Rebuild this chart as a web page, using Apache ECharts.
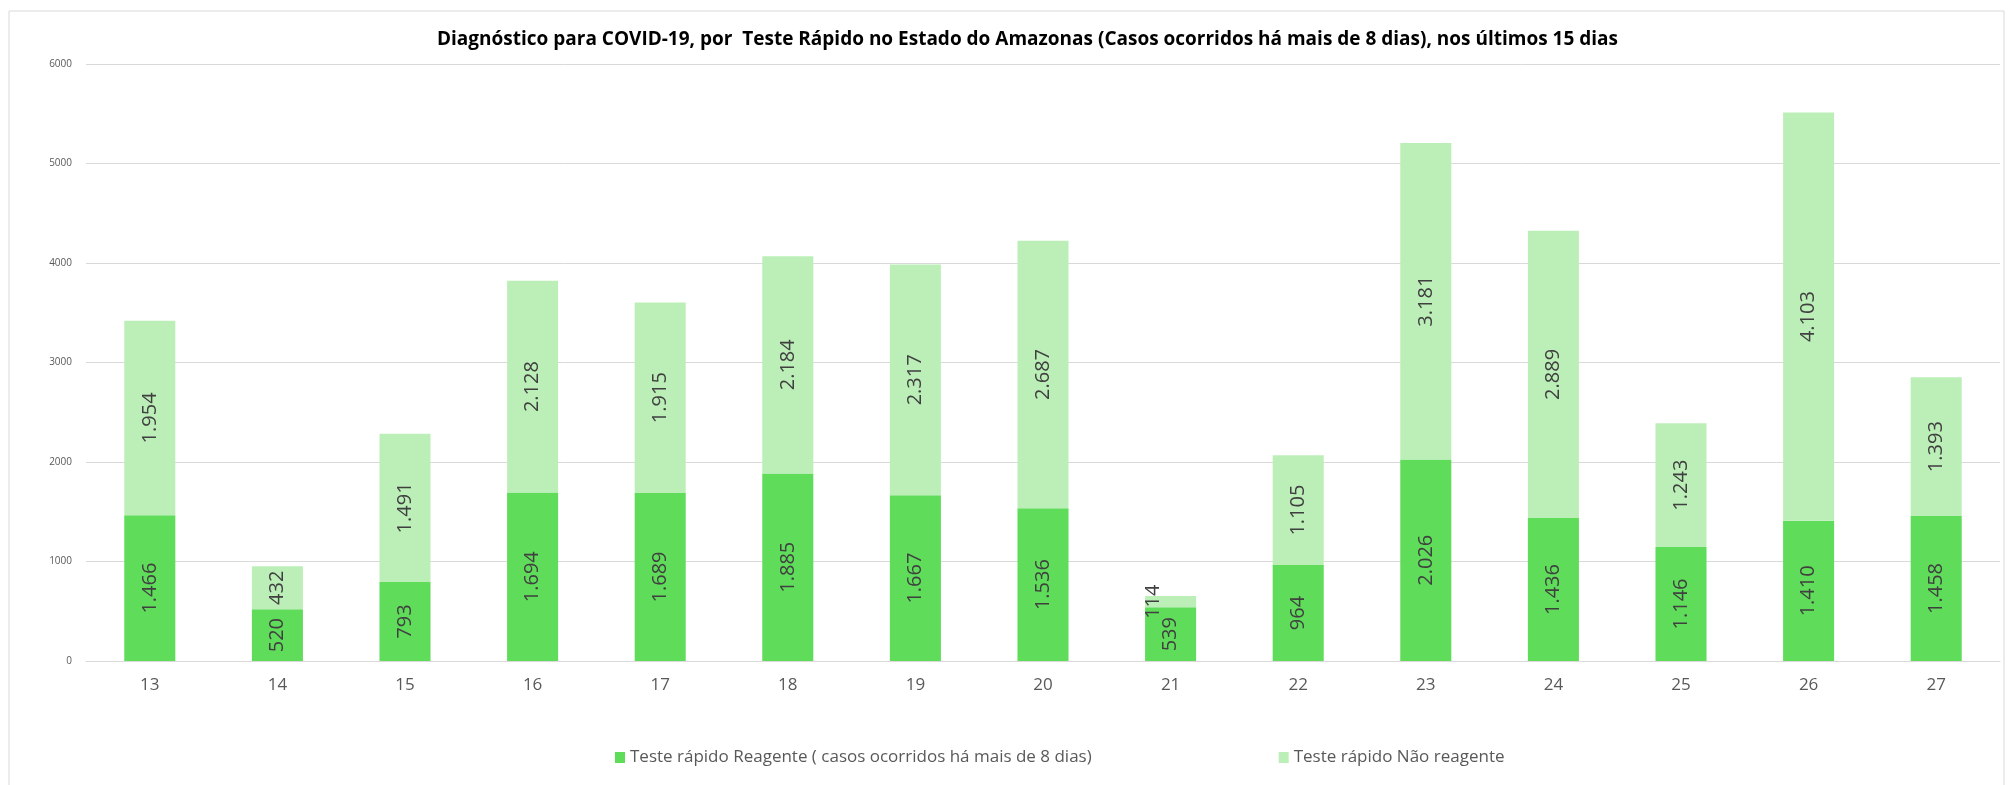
<!DOCTYPE html>
<html>
<head>
<meta charset="utf-8">
<script src="https://cdn.jsdelivr.net/npm/echarts@6/dist/echarts.min.js"></script>
<style>
  html, body { margin: 0; padding: 0; background: #fff; }
  #chart { width: 2012px; height: 785px; }
</style>
</head>
<body>
<div id="chart"></div>
<script>
// dias (eixo x)
var dias = ['13', '14', '15', '16', '17', '18', '19', '20', '21', '22', '23', '24', '25', '26', '27'];
// Teste rápido Reagente
var reagente = [1466, 520, 793, 1694, 1689, 1885, 1667, 1536, 539, 964, 2026, 1436, 1146, 1410, 1458];
// Teste rápido Não reagente
var naoReagente = [1954, 432, 1491, 2128, 1915, 2184, 2317, 2687, 114, 1105, 3181, 2889, 1243, 4103, 1393];

var nomes = ['Teste rápido Reagente ( casos ocorridos há mais de 8 dias)', 'Teste rápido Não reagente'];

function fmt(v) {
	// separador de milhar com ponto
	return String(v).replace(/\B(?=(\d{3})+(?!\d))/g, '.');
}

var labelCfg = {
	show: true,
	position: 'inside',
	rotate: 90,
	fontSize: 20,
	fontFamily: 'Open Sans',
	color: '#404040',
	formatter: function(p) { return fmt(p.value); }
};

// valores pequenos: rótulo empurrado para cima (como no Excel)
function comRotulo(arr) {
	return arr.map(function(v) {
		if (v < 200) {
			return { value: v, label: { offset: [0, -17] } };
		}
		return v;
	});
}

var myChart = echarts.init(document.getElementById('chart'));

var option = {
	animation: false,
	backgroundColor: '#fff',
	title: {
		text: 'Diagnóstico para COVID-19, por  Teste Rápido no Estado do Amazonas (Casos ocorridos há mais de 8 dias), nos últimos 15 dias',
		left: 432,
		top: 25,
		textStyle: {
			fontFamily: 'Open Sans',
			fontWeight: 'bold',
			fontSize: 19,
			color: '#000'
		}
	},
	graphic: [{
		type: 'rect',
		shape: { x: 9, y: 11, width: 1995, height: 800 },
		style: { fill: 'none', stroke: '#d9d9d9', lineWidth: 1 },
		silent: true
	}],
	legend: {
		bottom: 14,
		left: 610,
		itemGap: 187,
		itemWidth: 10,
		itemHeight: 11,
		icon: 'rect',
		textStyle: { fontFamily: 'Open Sans', fontSize: 17, color: '#595959' },
		data: nomes
	},
	grid: {
		left: 86,
		right: 12,
		top: 64,
		bottom: 124,
		containLabel: false
	},
	xAxis: {
		type: 'category',
		data: dias,
		axisLine: { lineStyle: { color: '#d9d9d9' } },
		axisTick: { show: false },
		axisLabel: { fontFamily: 'Open Sans', fontSize: 17, color: '#595959', margin: 16 }
	},
	yAxis: {
		type: 'value',
		min: 0,
		max: 6000,
		interval: 1000,
		axisLine: { show: false },
		axisTick: { show: false },
		splitLine: { lineStyle: { color: '#d9d9d9' } },
		axisLabel: {
			fontFamily: 'Open Sans', fontSize: 10, color: '#595959', margin: 14,
			formatter: function(v) { return String(v); }
		}
	},
	series: [{
		name: nomes[0],
		type: 'bar',
		stack: 'total',
		barWidth: '40%',
		itemStyle: { color: '#5fdc5a' },
		label: labelCfg,
		data: comRotulo(reagente)
	}, {
		name: nomes[1],
		type: 'bar',
		stack: 'total',
		barWidth: '40%',
		itemStyle: { color: '#bcefb8' },
		label: labelCfg,
		data: comRotulo(naoReagente)
	}]
};
myChart.setOption(option);
</script>
</body>
</html>
